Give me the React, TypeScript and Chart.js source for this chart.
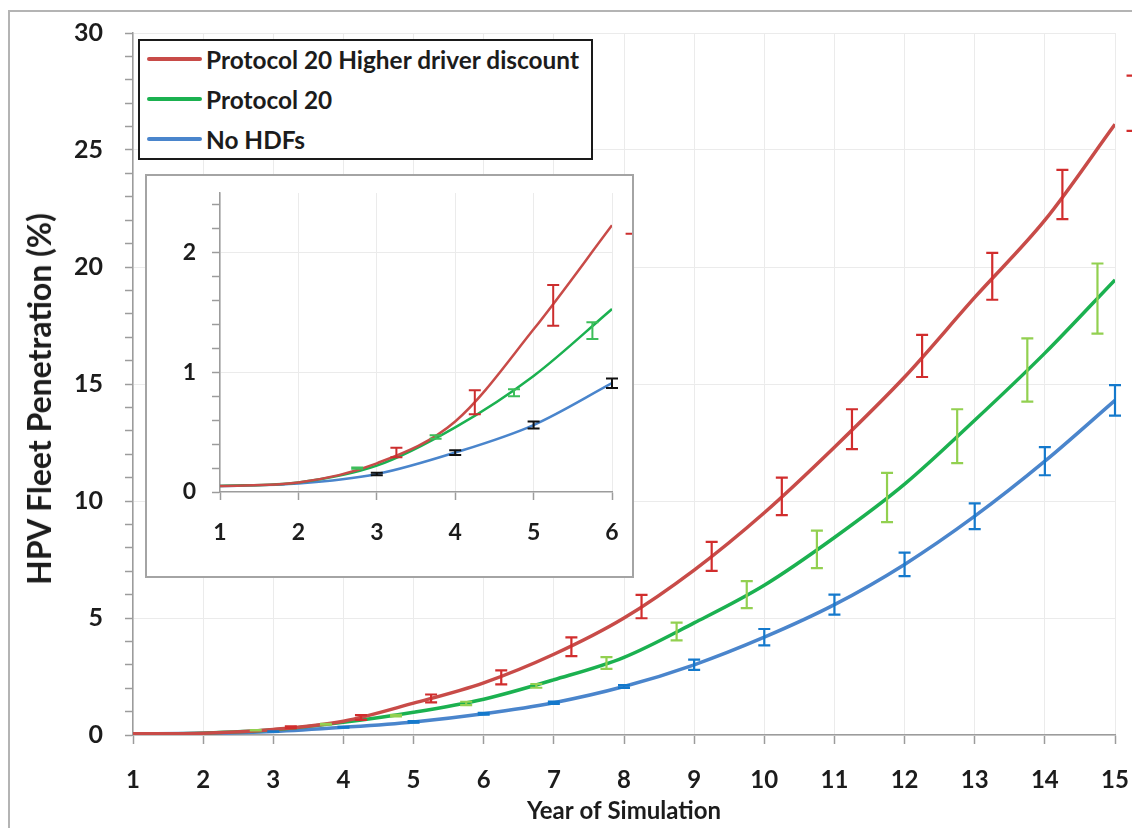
import React, { useEffect, useRef } from "react";
import { Chart, registerables } from "chart.js";

Chart.register(...registerables);

// ---- data -------------------------------------------------------------
const YEARS = [1, 2, 3, 4, 5, 6, 7, 8, 9, 10, 11, 12, 13, 14, 15];

const SERIES_NAMES = ["Protocol 20 Higher driver discount", "Protocol 20", "No HDFs"];
const X_TITLE = "Year of Simulation";
const Y_TITLE = "HPV Fleet Penetration (%)";

// HPV fleet penetration (%) per simulated year
const HIGHER_DISCOUNT = [0.05, 0.08, 0.24, 0.59, 1.36, 2.23, 3.45, 5.0, 7.05, 9.5, 12.3, 15.3, 18.7, 22.0, 26.1];
const PROTOCOL_20 = [0.05, 0.08, 0.22, 0.54, 0.97, 1.53, 2.36, 3.32, 4.79, 6.4, 8.44, 10.72, 13.45, 16.32, 19.45];
const NO_HDFS = [0.05, 0.07, 0.15, 0.33, 0.56, 0.91, 1.38, 2.07, 3.0, 4.18, 5.57, 7.29, 9.35, 11.7, 14.3];

// error bars: x position, mean, half range
const HD_ERR_X = [3.25, 4.25, 5.25, 6.25, 7.25, 8.25, 9.25, 10.25, 11.25, 12.25, 13.25, 14.25, 15.25];
const HD_ERR_MEAN = [0.33, 0.75, 1.56, 2.46, 3.77, 5.49, 7.63, 10.2, 13.07, 16.2, 19.6, 23.1, 27.0];
const HD_ERR_HALF = [0.04, 0.1, 0.17, 0.3, 0.4, 0.5, 0.62, 0.8, 0.85, 0.9, 1.0, 1.05, 1.18];

const P20_ERR_X = [2.75, 3.75, 4.75, 5.75, 6.75, 7.75, 8.75, 9.75, 10.75, 11.75, 12.75, 13.75, 14.75];
const P20_ERR_MEAN = [0.2, 0.46, 0.83, 1.35, 2.1, 3.08, 4.42, 6.0, 7.93, 10.15, 12.77, 15.6, 18.65];
const P20_ERR_HALF = [0.005, 0.015, 0.03, 0.07, 0.08, 0.25, 0.38, 0.58, 0.8, 1.05, 1.15, 1.35, 1.5];

const NO_ERR_X = [3, 4, 5, 6, 7, 8, 9, 10, 11, 12, 13, 14, 15];
const NO_ERR_MEAN = [0.15, 0.33, 0.56, 0.91, 1.38, 2.07, 3.0, 4.18, 5.57, 7.29, 9.35, 11.7, 14.3];
const NO_ERR_HALF = [0.01, 0.02, 0.03, 0.04, 0.05, 0.06, 0.22, 0.35, 0.43, 0.5, 0.55, 0.6, 0.65];

// axis ticks
const MAIN_Y_TICKS = Array.from({ length: 31 }, (_, i) => i);
const MAIN_Y_LABELS = [0, 5, 10, 15, 20, 25, 30];
const INSET_Y_TICKS = [0, 0.2, 0.4, 0.6, 0.8, 1, 1.2, 1.4, 1.6, 1.8, 2, 2.2, 2.4];
const INSET_Y_LABELS = [0, 1, 2];
const INSET_YEARS = 6;

// ---- styling ----------------------------------------------------------
const FONT = "Lato, 'Open Sans', sans-serif";
const LINE_COLORS = ["#C84B48", "#1BB150", "#4A85CC"];
const MAIN_ERR_COLORS = ["#D12D2D", "#92D050", "#1479CC"];
const INSET_ERR_COLORS = ["#CC2E2E", "#3DBE5A", "#111111"];
const TEXT = "#1c1c1c";
const AXIS = "#9c9c9c";
const GRID = "#ebebeb";

type ErrSet = { xs: number[]; means: number[]; halves: number[]; color: string; cap: number; width: number };

function errorBars(sets: ErrSet[]) {
  return {
    id: "errorBars",
    afterDatasetsDraw(chart: any) {
      const { ctx } = chart;
      const x = chart.scales.x;
      const y = chart.scales.y;
      ctx.save();
      ctx.lineCap = "butt";
      sets.forEach((s) => {
        ctx.strokeStyle = s.color;
        ctx.lineWidth = s.width;
        s.xs.forEach((xv, i) => {
          const px = x.getPixelForValue(xv);
          const top = y.getPixelForValue(s.means[i] + s.halves[i]);
          const bot = y.getPixelForValue(s.means[i] - s.halves[i]);
          ctx.beginPath();
          // beyond the last year only the caps remain visible
          if (xv <= x.max + 1e-9) {
            ctx.moveTo(px, top);
            ctx.lineTo(px, bot);
          }
          ctx.moveTo(px - s.cap, top);
          ctx.lineTo(px + s.cap, top);
          ctx.moveTo(px - s.cap, bot);
          ctx.lineTo(px + s.cap, bot);
          ctx.stroke();
        });
      });
      ctx.restore();
    },
  };
}

function lineSets(count: number, width: number) {
  return [HIGHER_DISCOUNT, PROTOCOL_20, NO_HDFS].map((vals, k) => ({
    label: SERIES_NAMES[k],
    data: YEARS.slice(0, count).map((yr, i) => ({ x: yr, y: vals[i] })),
    borderColor: LINE_COLORS[k],
    borderWidth: width,
    pointRadius: 0,
    cubicInterpolationMode: "monotone" as const,
    fill: false,
  }));
}

function isOneOf(v: number, list: number[]) {
  return list.some((l) => Math.abs(l - v) < 1e-6);
}

// keep the plot area where the layout padding puts it
const fixWidth = (w: number) => (s: any) => {
  s.width = w;
  s.paddingTop = 0;
  s.paddingBottom = 0;
};
const fixHeight = (h: number) => (s: any) => {
  s.height = h;
  s.paddingLeft = 0;
  s.paddingRight = 0;
};

function mainConfig(): any {
  const sets: ErrSet[] = [
    { xs: HD_ERR_X, means: HD_ERR_MEAN, halves: HD_ERR_HALF, color: MAIN_ERR_COLORS[0], cap: 6, width: 2.2 },
    { xs: P20_ERR_X, means: P20_ERR_MEAN, halves: P20_ERR_HALF, color: MAIN_ERR_COLORS[1], cap: 6, width: 2.2 },
    { xs: NO_ERR_X, means: NO_ERR_MEAN, halves: NO_ERR_HALF, color: MAIN_ERR_COLORS[2], cap: 6, width: 2.2 },
  ];
  return {
    type: "line",
    data: { datasets: lineSets(YEARS.length, 3.5) },
    plugins: [errorBars(sets)],
    options: {
      animation: false,
      responsive: false,
      layout: { padding: { top: 25, right: 25, left: 0, bottom: 0 } },
      plugins: { legend: { display: false }, tooltip: { enabled: false } },
      scales: {
        x: {
          type: "linear",
          min: 1,
          max: 15,
          afterBuildTicks: (s: any) => {
            s.ticks = YEARS.map((v) => ({ value: v }));
          },
          afterFit: fixHeight(93),
          ticks: { color: TEXT, font: { family: FONT, size: 24, weight: "bold" }, padding: 22, autoSkip: false, maxRotation: 0 },
          grid: { color: GRID, lineWidth: 1, tickColor: AXIS, tickLength: 9, tickWidth: 1.5 },
          border: { color: AXIS, width: 1.5 },
          title: {
            display: true,
            text: X_TITLE,
            color: TEXT,
            font: { family: FONT, size: 24, weight: "bold" },
            padding: { top: 0, bottom: 2 },
          },
        },
        y: {
          min: 0,
          max: 30,
          afterBuildTicks: (s: any) => {
            s.ticks = MAIN_Y_TICKS.map((v) => ({ value: v }));
          },
          afterFit: fixWidth(125),
          ticks: {
            color: TEXT,
            font: { family: FONT, size: 25, weight: "bold" },
            padding: 22,
            autoSkip: false,
            callback: (v: number) => (isOneOf(v, MAIN_Y_LABELS) ? String(v) : ""),
          },
          grid: {
            color: (c: any) => (c.tick && isOneOf(c.tick.value, MAIN_Y_LABELS) ? GRID : "rgba(0,0,0,0)"),
            lineWidth: 1,
            tickColor: AXIS,
            tickLength: 8,
            tickWidth: 1.5,
          },
          border: { color: AXIS, width: 1.5 },
        },
      },
    },
  };
}

function insetConfig(): any {
  const limit = 6.25;
  const pick = (xs: number[], arr: number[]) => arr.filter((_, i) => xs[i] <= limit);
  const sets: ErrSet[] = [
    { xs: pick(HD_ERR_X, HD_ERR_X), means: pick(HD_ERR_X, HD_ERR_MEAN), halves: pick(HD_ERR_X, HD_ERR_HALF), color: INSET_ERR_COLORS[0], cap: 6, width: 2 },
    { xs: pick(P20_ERR_X, P20_ERR_X), means: pick(P20_ERR_X, P20_ERR_MEAN), halves: pick(P20_ERR_X, P20_ERR_HALF), color: INSET_ERR_COLORS[1], cap: 6, width: 2 },
    { xs: pick(NO_ERR_X, NO_ERR_X), means: pick(NO_ERR_X, NO_ERR_MEAN), halves: pick(NO_ERR_X, NO_ERR_HALF), color: INSET_ERR_COLORS[2], cap: 6, width: 2 },
  ];
  return {
    type: "line",
    data: { datasets: lineSets(INSET_YEARS, 2.5) },
    plugins: [errorBars(sets)],
    options: {
      animation: false,
      responsive: false,
      layout: { padding: { top: 17, right: 20, left: 0, bottom: 0 } },
      plugins: { legend: { display: false }, tooltip: { enabled: false } },
      scales: {
        x: {
          type: "linear",
          min: 1,
          max: INSET_YEARS,
          afterBuildTicks: (s: any) => {
            s.ticks = YEARS.slice(0, INSET_YEARS).map((v) => ({ value: v }));
          },
          afterFit: fixHeight(84),
          ticks: { color: TEXT, font: { family: FONT, size: 23, weight: "bold" }, padding: 19, autoSkip: false, maxRotation: 0 },
          grid: { color: GRID, lineWidth: 1, tickColor: AXIS, tickLength: 8, tickWidth: 1.5 },
          border: { color: AXIS, width: 1.5 },
        },
        y: {
          min: 0,
          max: 2.5,
          afterBuildTicks: (s: any) => {
            s.ticks = INSET_Y_TICKS.map((v) => ({ value: v }));
          },
          afterFit: fixWidth(73),
          ticks: {
            color: TEXT,
            font: { family: FONT, size: 23, weight: "bold" },
            padding: 16,
            autoSkip: false,
            callback: (v: number) => (isOneOf(v, INSET_Y_LABELS) ? String(Math.round(v)) : ""),
          },
          grid: {
            color: (c: any) =>
              c.tick && isOneOf(c.tick.value, INSET_Y_LABELS) && c.tick.value > 0 ? GRID : "rgba(0,0,0,0)",
            lineWidth: 1,
            tickColor: AXIS,
            tickLength: 8,
            tickWidth: 1.5,
          },
          border: { color: AXIS, width: 1.5 },
        },
      },
    },
  };
}

export default function App() {
  const mainRef = useRef<HTMLCanvasElement>(null);
  const insetRef = useRef<HTMLCanvasElement>(null);

  useEffect(() => {
    const main = new Chart(mainRef.current as HTMLCanvasElement, mainConfig());
    const inset = new Chart(insetRef.current as HTMLCanvasElement, insetConfig());
    return () => {
      main.destroy();
      inset.destroy();
    };
  }, []);

  return (
    <div style={{ position: "relative", width: 1132, height: 820, overflow: "hidden", background: "#fff" }}>
      <div
        style={{
          position: "absolute",
          left: 0,
          top: 2,
          width: 1200,
          height: 900,
          borderTop: "2px solid #b4b4b4",
          borderLeft: "2px solid #b4b4b4",
        }}
      />
      <canvas ref={mainRef} width={1132} height={820} style={{ position: "absolute", left: 0, top: 0 }} />

      {/* vertical axis title */}
      <div
        style={{
          position: "absolute",
          left: 31,
          top: 391,
          transform: "translate(-50%, -50%) rotate(-90deg)",
          whiteSpace: "nowrap",
          fontFamily: FONT,
          fontWeight: 700,
          fontSize: 32,
          lineHeight: "38px",
          color: TEXT,
        }}
      >
        {Y_TITLE}
      </div>

      {/* magnified view of the first six years */}
      <div
        style={{
          position: "absolute",
          left: 137,
          top: 166,
          width: 485,
          height: 400,
          border: "2px solid #a4a4a4",
          background: "#fff",
        }}
      >
        <canvas ref={insetRef} width={485} height={400} style={{ display: "block" }} />
      </div>

      {/* legend */}
      <div
        style={{
          position: "absolute",
          left: 130,
          top: 31,
          width: 451,
          height: 117,
          border: "2px solid #1a1a1a",
          background: "#fff",
          fontFamily: FONT,
          fontWeight: 700,
          fontSize: 24.4,
          color: TEXT,
        }}
      >
        {SERIES_NAMES.map((name, i) => (
          <div
            key={name}
            style={{
              position: "absolute",
              left: 7,
              top: 18 + 40 * i - 15,
              height: 30,
              display: "flex",
              alignItems: "center",
              whiteSpace: "nowrap",
            }}
          >
            <span
              style={{
                display: "inline-block",
                width: 55,
                height: 4,
                borderRadius: 2,
                background: LINE_COLORS[i],
                marginRight: 4,
              }}
            />
            <span>{name}</span>
          </div>
        ))}
      </div>
    </div>
  );
}
